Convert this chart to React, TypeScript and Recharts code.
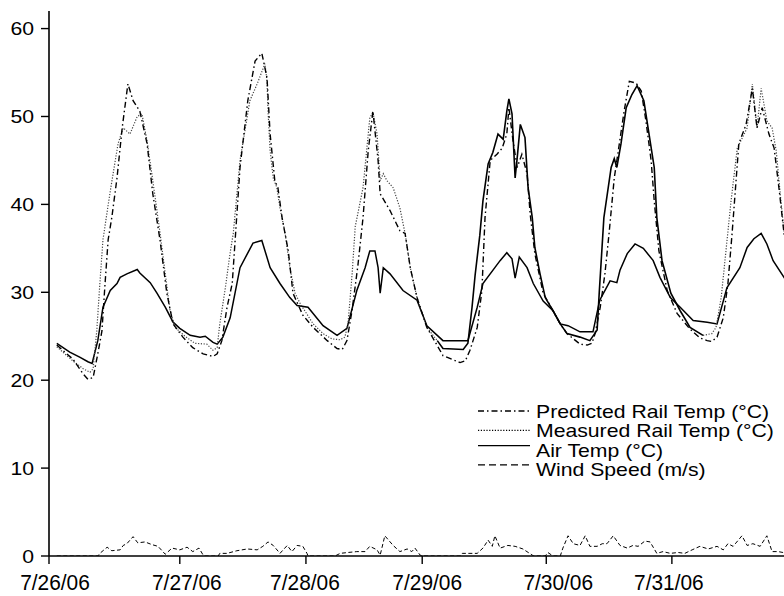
import { LineChart, Line, XAxis, YAxis } from 'recharts';

// hours since 7/26/06 00:00, value
const predictedRail: [number, number][] = [
  [1.5, 24.0], [4.6, 22.4], [6.6, 20.7], [7.5, 20.1], [8.5, 20.3], [9.4, 23.0], [10.2, 25.6],
  [10.8, 31.0], [11.4, 36.0], [12.1, 38.5], [13.1, 43.0], [14.1, 48.7], [15.2, 53.7], [16.2, 51.8],
  [17.5, 50.6], [18.9, 46.9], [20.0, 41.2], [21.4, 35.9], [22.7, 29.9], [23.9, 26.4], [25.8, 24.9],
  [27.7, 23.7], [29.7, 23.0], [31.6, 22.7], [32.4, 23.0], [33.3, 24.5], [34.3, 28.3], [35.3, 31.0],
  [36.8, 44.2], [38.3, 51.8], [39.7, 56.3], [41.0, 57.2], [42.0, 54.4], [42.6, 48.0], [43.5, 42.7],
  [44.1, 41.9], [44.9, 38.5], [46.1, 34.7], [47.0, 29.9], [48.9, 27.4], [50.9, 26.0], [53.6, 24.5],
  [55.5, 23.6], [56.5, 23.5], [57.4, 24.5], [58.4, 28.0], [59.5, 33.0], [60.5, 38.5], [61.5, 46.1],
  [62.4, 50.6], [63.4, 45.0], [63.8, 41.2], [65.7, 39.3], [67.6, 37.0], [68.6, 36.7], [69.6, 32.8],
  [70.9, 29.4], [72.8, 26.0], [75.9, 22.8], [79.2, 22.0], [80.2, 22.2], [81.1, 23.4], [82.5, 26.0],
  [83.4, 30.2], [84.0, 38.5], [85.0, 45.0], [86.3, 45.7], [87.3, 46.4], [88.2, 48.0], [88.6, 51.0],
  [89.4, 47.2], [90.2, 44.2], [91.1, 45.7], [92.1, 43.5], [92.7, 38.9], [93.6, 34.4], [95.2, 29.9],
  [97.1, 27.9], [98.5, 26.4], [99.8, 25.3], [102.3, 24.1], [103.7, 24.0], [104.6, 24.2], [105.2, 25.3],
  [106.2, 28.3], [107.1, 32.1], [107.9, 36.7], [108.9, 43.0], [110.8, 50.6], [111.8, 54.0], [113.1, 53.8],
  [114.1, 52.9], [115.0, 49.5], [116.0, 45.0], [116.6, 40.4], [117.5, 34.7], [119.1, 30.2], [121.0, 27.6],
  [123.5, 25.8], [125.4, 24.8], [126.8, 24.5], [127.7, 24.4], [128.7, 24.9], [129.9, 27.1], [130.8, 31.0],
  [131.6, 36.7], [132.9, 46.9], [134.3, 49.1], [135.5, 53.2], [136.4, 48.7], [137.4, 51.0], [138.7, 48.0],
  [139.7, 46.4], [140.7, 41.5], [141.6, 36.7], [143, 31.0],
];

const measuredRail: [number, number][] = [
  [1.5, 23.8], [4.6, 22.2], [6.6, 21.3], [7.9, 20.9], [8.5, 21.3], [9.2, 25.6], [9.8, 31.0], [10.4, 36.0],
  [11.8, 41.5], [13.3, 46.9], [14.3, 48.7], [15.6, 48.0], [17.0, 50.0], [17.9, 50.3], [18.9, 47.2],
  [20.0, 42.7], [21.4, 36.7], [22.4, 32.1], [23.3, 28.0], [24.3, 26.0], [26.2, 25.0], [28.1, 24.2],
  [30.4, 24.1], [31.6, 23.4], [32.4, 23.7], [32.9, 26.4], [33.9, 30.2], [34.9, 34.5], [35.5, 36.7],
  [36.8, 45.0], [38.7, 51.8], [40.1, 53.7], [41.6, 56.0], [42.0, 54.0], [42.2, 50.6], [42.6, 46.1],
  [43.2, 43.0], [43.9, 41.9], [44.5, 39.6], [45.5, 36.7], [46.4, 32.8], [47.4, 29.9], [48.4, 28.7],
  [50.9, 26.4], [52.8, 25.3], [54.5, 24.7], [56.1, 24.6], [57.0, 24.9], [57.6, 26.4], [58.4, 32.1],
  [59.0, 37.5], [60.5, 41.9], [61.8, 49.8], [62.4, 50.5], [63.2, 48.0], [63.8, 42.7], [64.4, 43.5],
  [65.1, 42.7], [66.3, 41.9], [67.6, 39.6], [68.6, 36.7], [69.6, 32.8], [70.9, 29.4], [72.8, 26.0],
  [74.8, 24.5], [75.9, 23.6], [79.8, 23.5], [80.7, 24.2], [81.5, 28.3], [82.1, 32.0], [83.0, 36.5],
  [83.6, 40.4], [84.6, 44.6], [85.5, 45.9], [86.5, 48.0], [87.5, 47.4], [88.2, 50.6], [88.6, 52.0],
  [89.2, 50.3], [89.8, 43.0], [90.2, 45.3], [90.8, 49.1], [91.7, 47.6], [92.3, 41.9], [93.1, 38.5],
  [93.6, 35.1], [94.6, 32.1], [95.6, 29.4], [97.1, 27.9], [98.5, 26.4], [99.8, 25.3], [102.3, 24.9],
  [104.2, 24.5], [105.6, 25.7], [106.0, 29.9], [106.9, 38.5], [108.3, 44.2], [108.9, 45.2], [109.4, 44.2],
  [110.2, 46.9], [111.2, 51.0], [112.3, 52.5], [113.3, 53.5], [114.6, 51.8], [115.6, 48.0], [116.6, 44.2],
  [117.1, 38.5], [118.1, 33.6], [119.8, 29.9], [121.6, 27.9], [123.5, 26.0], [126.0, 25.1], [127.7, 25.3],
  [128.5, 26.0], [129.5, 29.4], [131.4, 40.4], [132.6, 46.4], [134.5, 48.7], [135.5, 53.7], [136.4, 48.7],
  [137.2, 53.2], [138.3, 49.5], [139.3, 48.7], [140.1, 46.1], [141.0, 40.4], [141.6, 37.0], [143, 32.0],
];

// stretch where the measured trace prints as a solid line
const measuredSolidFrom = 74.8;
const measuredSolidTo = 126.0;

const airTemp: [number, number][] = [
  [1.5, 24.2], [4.0, 23.2], [6.0, 22.6], [7.5, 22.1], [8.3, 21.9], [9.4, 24.5], [10.4, 28.3], [11.8, 30.2],
  [13.1, 31.0], [13.7, 31.7], [15.0, 32.1], [17.0, 32.6], [17.5, 32.2], [19.5, 31.1], [20.8, 29.9],
  [22.4, 28.3], [23.9, 26.6], [25.2, 25.9], [27.2, 25.1], [29.1, 24.9], [30.1, 25.0], [31.6, 24.3],
  [32.4, 24.1], [33.5, 24.9], [34.9, 27.1], [36.8, 32.8], [39.3, 35.6], [41.0, 35.9], [42.6, 32.8],
  [44.5, 31.0], [46.4, 29.4], [47.8, 28.5], [49.9, 28.3], [52.8, 26.2], [55.5, 25.1], [57.4, 25.9],
  [59.3, 30.2], [60.9, 32.8], [61.8, 34.7], [62.8, 34.7], [63.4, 32.8], [63.8, 29.9], [64.4, 32.8],
  [65.7, 32.1], [68.2, 30.2], [70.9, 29.1], [72.8, 26.2], [75.9, 24.5], [78.6, 24.5], [80.7, 24.5],
  [82.5, 28.3], [83.6, 31.0], [86.9, 33.6], [88.2, 34.5], [89.2, 33.8], [89.8, 31.6], [90.6, 34.0],
  [92.1, 32.8], [93.3, 31.0], [95.2, 29.0], [97.1, 27.9], [98.5, 26.4], [100.0, 26.2], [102.3, 25.5],
  [104.8, 25.5], [106.1, 29.1], [108.1, 31.3], [109.4, 31.1], [110.0, 32.5], [111.4, 34.4], [112.9, 35.5],
  [114.5, 35.0], [116.4, 33.6], [117.7, 31.7], [119.7, 29.4], [121.6, 28.3], [124.1, 26.8], [126.8, 26.6],
  [128.7, 26.4], [130.6, 30.5], [133.1, 32.8], [134.5, 35.1], [135.8, 36.1], [137.2, 36.7], [138.3, 35.5],
  [139.5, 33.6], [141.6, 31.7], [143, 30.5],
];

const windSpeed: [number, number][] = [
  [1.5, 0], [9.4, 0], [9.8, 0.3], [11.2, 1.0], [12.1, 0.6], [13.7, 0.7], [14.3, 1.2], [15.0, 1.4],
  [16.2, 2.2], [17.1, 1.5], [18.5, 1.6], [19.8, 1.3], [21.0, 1.1], [22.4, 0.2], [23.7, 0.9], [25.2, 0.7],
  [26.6, 1.0], [27.7, 0.5], [28.9, 0.9], [29.7, 0.1], [30.1, 0], [32.6, 0], [32.9, 0.3], [34.3, 0.3],
  [36.2, 0.6], [38.2, 0.8], [40.1, 0.7], [41.2, 1.1], [42.2, 1.6], [43.2, 1.2], [44.5, 0.3], [45.9, 1.2],
  [46.8, 0.5], [47.8, 1.2], [48.9, 1.1], [49.7, 0.3], [49.9, 0], [55.1, 0], [56.1, 0.3], [57.6, 0.4],
  [59.3, 0.5], [60.9, 0.5], [61.8, 1.1], [63.2, 0.7], [63.8, 0.1], [64.7, 2.3], [66.3, 1.2], [67.6, 0.5],
  [69.0, 0.8], [69.9, 0.5], [70.5, 0.9], [71.5, 0.1], [71.9, 0], [79.2, 0], [79.6, 0.3], [81.1, 0.3],
  [82.5, 0.3], [83.6, 0.9], [84.6, 1.8], [85.4, 1.1], [85.9, 2.3], [86.9, 0.9], [88.4, 1.2], [89.8, 1.1],
  [91.3, 0.8], [93.1, 0.1], [93.4, 0], [95.6, 0], [96.1, 0.4], [97.1, 0], [98.5, 0], [99.0, 0.9],
  [100.0, 2.3], [101.0, 1.4], [102.3, 1.2], [103.3, 2.3], [104.2, 1.1], [105.6, 1.1], [106.6, 1.4],
  [107.5, 1.4], [108.7, 2.3], [110.0, 1.2], [111.4, 0.9], [112.5, 1.2], [113.5, 1.1], [114.8, 1.7],
  [115.8, 1.6], [117.1, 0.3], [118.3, 0.5], [119.7, 0.3], [121.2, 0.4], [122.5, 0.3], [123.9, 0.7],
  [125.4, 1.1], [127.0, 0.8], [128.7, 1.1], [129.9, 0.7], [130.8, 1.4], [131.8, 1.1], [133.5, 2.3],
  [134.5, 1.2], [135.6, 1.4], [137.0, 1.1], [138.3, 2.3], [139.3, 0.5], [140.5, 0.5], [141.4, 0.4],
  [143, 0.3],
];

const dayTicks = [0, 25.2, 49.5, 71.9, 95.8, 120];
const dayLabels = ['7/26/06', '7/27/06', '7/28/06', '7/29/06', '7/30/06', '7/31/06'];
const dayLabelShift = [6, 7, -1, 5, 12, -3];
const tempTicks = [0, 10, 20, 30, 40, 50, 60];

const legendItems = [
  { name: 'Predicted Rail Temp (°C)', dash: '6 3 1.5 3' },
  { name: 'Measured Rail Temp (°C)', dash: '1.2 1.6' },
  { name: 'Air Temp (°C)', dash: undefined },
  { name: 'Wind Speed (m/s)', dash: '7 4' },
];

const FONT = '"Liberation Sans", Arial, Helvetica, sans-serif';
const STRETCH = 1.14;

const pts = (arr: [number, number][]) => arr.map(([h, v]) => ({ h, v }));
const inSolid = (h: number) => h >= measuredSolidFrom && h <= measuredSolidTo;

const measuredDotted = measuredRail.map(([h, v]) => ({
  h,
  v: h > measuredSolidFrom && h < measuredSolidTo ? null : v,
}));
const measuredSolid = measuredRail.filter(([h]) => inSolid(h)).map(([h, v]) => ({ h, v }));

function DayTick(props: any) {
  const { x, payload, index } = props;
  const i = dayTicks.indexOf(payload.value);
  const k = i >= 0 ? i : index;
  return (
    <g transform={`translate(${x + (dayLabelShift[k] || 0)},590)`}>
      <text transform="scale(0.95,1)" textAnchor="middle" fontFamily={FONT} fontSize={22} fill="#000">
        {dayLabels[k]}
      </text>
    </g>
  );
}

function TempTick(props: any) {
  const { y, payload } = props;
  return (
    <g transform={`translate(34,${y + 6.5})`}>
      <text transform={`scale(${STRETCH},1)`} textAnchor="end" fontFamily={FONT} fontSize={18.6} fill="#000">
        {payload.value}
      </text>
    </g>
  );
}

function ChartLegend() {
  return (
    <svg width={314} height={90} style={{ display: 'block' }}>
      {legendItems.map((item, i) => {
        const yText = 23 + i * 19.3;
        const yLine = yText - 7 - (i > 1 ? 4 : 0);
        return (
          <g key={item.name}>
            <line x1={8} x2={60} y1={yLine} y2={yLine} stroke="#000" strokeWidth={1.3} strokeDasharray={item.dash} />
            <g transform={`translate(66,${yText})`}>
              <text transform={`scale(${STRETCH},1)`} fontFamily={FONT} fontSize={18.6} fill="#000">
                {item.name}
              </text>
            </g>
          </g>
        );
      })}
    </svg>
  );
}

export default function App() {
  return (
    <div style={{ position: 'absolute', left: 0, top: 0, width: 784, height: 596, background: '#fff' }}>
      <LineChart width={784} height={596} margin={{ top: 11, right: 0, bottom: 0, left: 0 }}>
        <XAxis
          type="number"
          dataKey="h"
          domain={[0, 141.6]}
          allowDataOverflow
          ticks={dayTicks}
          interval={0}
          height={40}
          tickSize={8}
          axisLine={{ stroke: '#000', strokeWidth: 1.6 }}
          tickLine={{ stroke: '#000', strokeWidth: 1.4 }}
          tick={<DayTick />}
        />
        <YAxis
          type="number"
          domain={[0, 62]}
          allowDataOverflow
          ticks={tempTicks}
          interval={0}
          width={49}
          tickSize={8}
          axisLine={{ stroke: '#000', strokeWidth: 1.6 }}
          tickLine={{ stroke: '#000', strokeWidth: 1.4 }}
          tick={<TempTick />}
        />
        <Line
          data={pts(windSpeed)}
          dataKey="v"
          name="Wind Speed (m/s)"
          stroke="#000"
          strokeWidth={1}
          strokeDasharray="4 2.5"
          dot={false}
          activeDot={false}
          isAnimationActive={false}
        />
        <Line
          data={pts(airTemp)}
          dataKey="v"
          name="Air Temp (°C)"
          stroke="#000"
          strokeWidth={1.5}
          dot={false}
          activeDot={false}
          isAnimationActive={false}
        />
        <Line
          data={measuredDotted}
          dataKey="v"
          name="Measured Rail Temp (°C)"
          stroke="#444"
          strokeWidth={1.2}
          strokeDasharray="1.2 1.6"
          connectNulls={false}
          dot={false}
          activeDot={false}
          isAnimationActive={false}
        />
        <Line
          data={measuredSolid}
          dataKey="v"
          name="Measured Rail Temp (°C) "
          stroke="#000"
          strokeWidth={1.6}
          dot={false}
          activeDot={false}
          isAnimationActive={false}
        />
        <Line
          data={pts(predictedRail)}
          dataKey="v"
          name="Predicted Rail Temp (°C)"
          stroke="#000"
          strokeWidth={1.4}
          strokeDasharray="6 3 1.5 3"
          dot={false}
          activeDot={false}
          isAnimationActive={false}
        />
      </LineChart>
      <div style={{ position: 'absolute', left: 470, top: 395 }}>
        <ChartLegend />
      </div>
    </div>
  );
}
